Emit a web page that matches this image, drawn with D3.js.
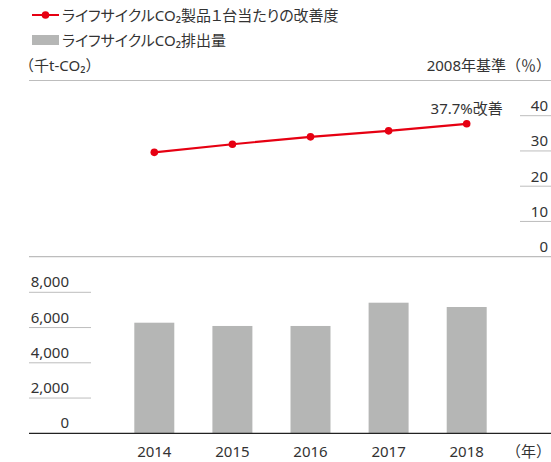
<!DOCTYPE html>
<html>
<head>
<meta charset="utf-8">
<script src="https://cdn.jsdelivr.net/npm/d3@7"></script>
<style>
  body { margin: 0; background: #fff; }
  text {
    font-family: "Noto Sans", "Noto Sans CJK JP", sans-serif;
    font-feature-settings: "palt";
    font-size: 15px;
    fill: #333;
  }
  text.unit { font-feature-settings: normal; }
</style>
</head>
<body>
<div id="container"></div>
<script>
// data
var years = ["2014", "2015", "2016", "2017", "2018"];
var improvement = [29.6, 31.9, 34.0, 35.7, 37.7];   // 2008年基準 (%)
var emissions = [6275, 6090, 6090, 7410, 7165];      // 千t-CO2
var pctTicks = [0, 10, 20, 30, 40];
var emTicks = [0, 2000, 4000, 6000, 8000];

var width = 551, height = 462;

var svg = d3.select("#container")
  .append("svg")
    .attr("width", width)
    .attr("height", height);

var left = 29, right = 551;
var red = "#e60012", gray = "#b5b6b5", lineGray = "#bdbdbd";

// x scale shared by both panels
var x = d3.scaleBand()
  .domain(years)
  .range([115.25, 505.75])
  .paddingInner(0.488)
  .paddingOuter(0.244);

// legend
var lg = svg.append("g");
lg.append("line")
  .attr("x1", 32).attr("x2", 59).attr("y1", 15).attr("y2", 15)
  .attr("stroke", red).attr("stroke-width", 2);
lg.append("circle").attr("cx", 45.5).attr("cy", 15).attr("r", 3.8).attr("fill", red);
lg.append("text").attr("x", 62).attr("y", 20.5)
  .text("ライフサイクルCO₂製品１台当たりの改善度");
lg.append("rect").attr("x", 32).attr("y", 35).attr("width", 27).attr("height", 10).attr("fill", gray);
lg.append("text").attr("x", 62).attr("y", 46)
  .text("ライフサイクルCO₂排出量");

// unit labels
svg.append("text").attr("class", "unit").attr("x", 19).attr("y", 70.5).text("（千t-CO₂）");
svg.append("text").attr("class", "unit").attr("x", 551).attr("y", 70.5).attr("text-anchor", "end")
  .text("2008年基準（％）");

// ---- top panel: line ----
var yTop = d3.scaleLinear().domain([0, 40]).range([256.7, 115.7]);

svg.append("line")
  .attr("x1", left).attr("x2", right).attr("y1", 80.5).attr("y2", 80.5)
  .attr("stroke", lineGray).attr("stroke-width", 1.2);

var rAxis = svg.append("g");
rAxis.selectAll("line.tick")
  .data(pctTicks)
  .enter().append("line")
    .attr("x1", d => d === 0 ? left : 520)
    .attr("x2", right)
    .attr("y1", d => yTop(d)).attr("y2", d => yTop(d))
    .attr("stroke", lineGray).attr("stroke-width", d => d === 0 ? 1.2 : 1);
rAxis.selectAll("text")
  .data(pctTicks)
  .enter().append("text")
    .attr("x", 548)
    .attr("y", d => yTop(d) - 4.5)
    .attr("text-anchor", "end")
    .text(d => d);

var pts = years.map((y, i) => ({ year: y, v: improvement[i] }));
var line = d3.line()
  .x(d => x(d.year) + x.bandwidth() / 2)
  .y(d => yTop(d.v));

svg.append("path")
  .datum(pts)
  .attr("d", line)
  .attr("fill", "none")
  .attr("stroke", red)
  .attr("stroke-width", 2.2);

svg.selectAll("circle.pt")
  .data(pts)
  .enter().append("circle")
    .attr("class", "pt")
    .attr("cx", d => x(d.year) + x.bandwidth() / 2)
    .attr("cy", d => yTop(d.v))
    .attr("r", 3.8)
    .attr("fill", red);

var last = pts[pts.length - 1];
svg.append("text")
  .attr("x", x(last.year) + x.bandwidth() / 2)
  .attr("y", yTop(last.v) - 9.5)
  .attr("text-anchor", "middle")
  .text("37.7%改善");

// ---- bottom panel: bars ----
var yBot = d3.scaleLinear().domain([0, 8000]).range([433.3, 292.3]);

var lAxis = svg.append("g");
lAxis.selectAll("line")
  .data(emTicks.slice(1))
  .enter().append("line")
    .attr("x1", left).attr("x2", 91)
    .attr("y1", d => yBot(d)).attr("y2", d => yBot(d))
    .attr("stroke", lineGray);
lAxis.selectAll("text")
  .data(emTicks)
  .enter().append("text")
    .attr("x", 69)
    .attr("y", d => yBot(d) - 5)
    .attr("text-anchor", "end")
    .text(d => d3.format(",")(d));

svg.selectAll("rect.bar")
  .data(years.map((y, i) => ({ year: y, v: emissions[i] })))
  .enter().append("rect")
    .attr("class", "bar")
    .attr("x", d => x(d.year))
    .attr("width", x.bandwidth())
    .attr("y", d => yBot(d.v))
    .attr("height", d => yBot(0) - yBot(d.v))
    .attr("fill", gray);

svg.append("line")
  .attr("x1", left).attr("x2", right).attr("y1", yBot(0)).attr("y2", yBot(0))
  .attr("stroke", "#222").attr("stroke-width", 1.2);

svg.selectAll("text.year")
  .data(years)
  .enter().append("text")
    .attr("class", "year")
    .attr("x", d => x(d) + x.bandwidth() / 2)
    .attr("y", 457)
    .attr("text-anchor", "middle")
    .text(d => d);

svg.append("text").attr("class", "unit").attr("x", 551).attr("y", 457).attr("text-anchor", "end")
  .text("（年）");
</script>
</body>
</html>
